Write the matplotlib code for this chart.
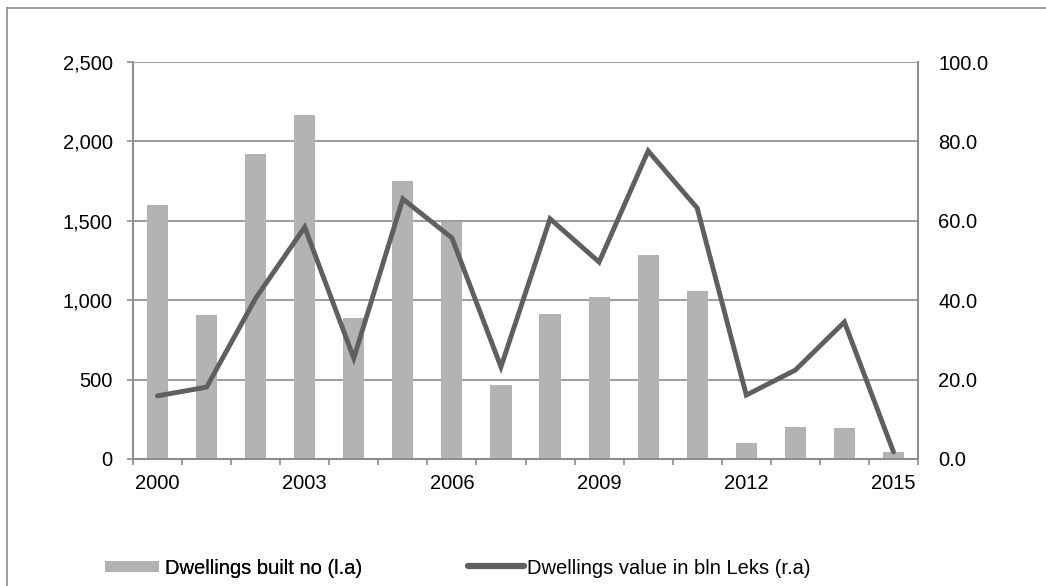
import numpy as np
import matplotlib
matplotlib.use("Agg")
import matplotlib.pyplot as plt
from matplotlib.lines import Line2D
from matplotlib.ticker import FuncFormatter, FixedLocator

plt.rcParams['font.family'] = ['Liberation Sans', 'DejaVu Sans']

# data
years = list(range(2000, 2016))
dwellings_built = [1600, 907, 1921, 2166, 888, 1750, 1490, 466, 913, 1020, 1285, 1058, 100, 200, 195, 45]
dwellings_value = [15.9, 18.1, 40.5, 58.4, 25.4, 65.5, 55.7, 23.2, 60.5, 49.6, 77.6, 63.2, 16.1, 22.4, 34.5, 1.8]
tick_years = [2000, 2003, 2006, 2009, 2012, 2015]

bar_color = '#b3b3b3'
line_color = '#5f5f5f'
grid_color = '#8c8c8c'
FS = 14.5
W, H = 1046, 586

fig = plt.figure(figsize=(W / 100, H / 100), dpi=100)
ax = fig.add_axes([133/W, 1 - 459/H, (918 - 133)/W, (459 - 62)/H])
ax2 = ax.twinx()

x = np.arange(len(years))
bars = ax.bar(x, dwellings_built, width=0.43, color=bar_color, zorder=2,
              label='Dwellings built no (l.a)')
line, = ax2.plot(x, dwellings_value, color=line_color, lw=3.5, solid_capstyle='round',
                 solid_joinstyle='miter', label='Dwellings value in bln Leks (r.a)')

ax.set_xlim(-0.5, len(years) - 0.5)
ax.set_ylim(0, 2500)
ax2.set_ylim(0, 100)
ax.set_yticks(np.arange(0, 2501, 500))
ax2.set_yticks(np.arange(0, 101, 20))
ax.yaxis.set_major_formatter(FuncFormatter(lambda v, p: f'{v:,.0f}'))
ax2.yaxis.set_major_formatter(FuncFormatter(lambda v, p: f'{v:.1f}'))

# category ticks between bars, labels every third year
ax.xaxis.set_major_locator(FixedLocator(np.arange(-0.5, len(years), 1.0)))
ax.set_xticklabels([])
ax.set_xticks([years.index(y) for y in tick_years], minor=True)
ax.set_xticklabels([str(y) for y in tick_years], minor=True)
ax.tick_params(axis='x', which='minor', length=0, pad=11)
ax.tick_params(axis='x', which='major', length=4.5, color=grid_color, width=1.2)

ax.grid(axis='y', color=grid_color, lw=1.2, zorder=0)
ax.set_axisbelow(True)
for a in (ax, ax2):
    a.spines['top'].set_visible(False)
    for s in ('left', 'right', 'bottom'):
        a.spines[s].set_color(grid_color)
        a.spines[s].set_linewidth(1.2)
    a.tick_params(axis='both', which='both', labelsize=FS, labelcolor='black')
ax.tick_params(axis='y', length=4.5, width=1.2, color=grid_color, pad=10)
ax2.tick_params(axis='y', length=0, pad=14.5)

ax.set_zorder(ax2.get_zorder() - 1)
ax2.patch.set_visible(False)

# two legend entries placed separately, like the original
leg1 = fig.legend([bars], [bars.get_label()], loc='center left',
                  bbox_to_anchor=(105/W, 1 - 568/H), frameon=False, fontsize=FS,
                  handlelength=2.7, handleheight=0.45, handletextpad=0.3,
                  borderpad=0, borderaxespad=0)
fig.legend([Line2D([], [], color=line_color, lw=4.5, solid_capstyle='round')],
           [line.get_label()], loc='center left',
           bbox_to_anchor=(468/W, 1 - 568/H), frameon=False, fontsize=FS,
           handlelength=2.8, handletextpad=0.15, borderpad=0, borderaxespad=0)
fig.add_artist(leg1)

# outer chart frame (only top and left edges are inside the picture)
fig.add_artist(Line2D([7/W, 7/W], [0, 1 - 8/H], transform=fig.transFigure,
                      color=grid_color, lw=1.2))
fig.add_artist(Line2D([7/W, 1], [1 - 8/H, 1 - 8/H], transform=fig.transFigure,
                      color=grid_color, lw=1.2))

fig.savefig('out.png', dpi=100)
